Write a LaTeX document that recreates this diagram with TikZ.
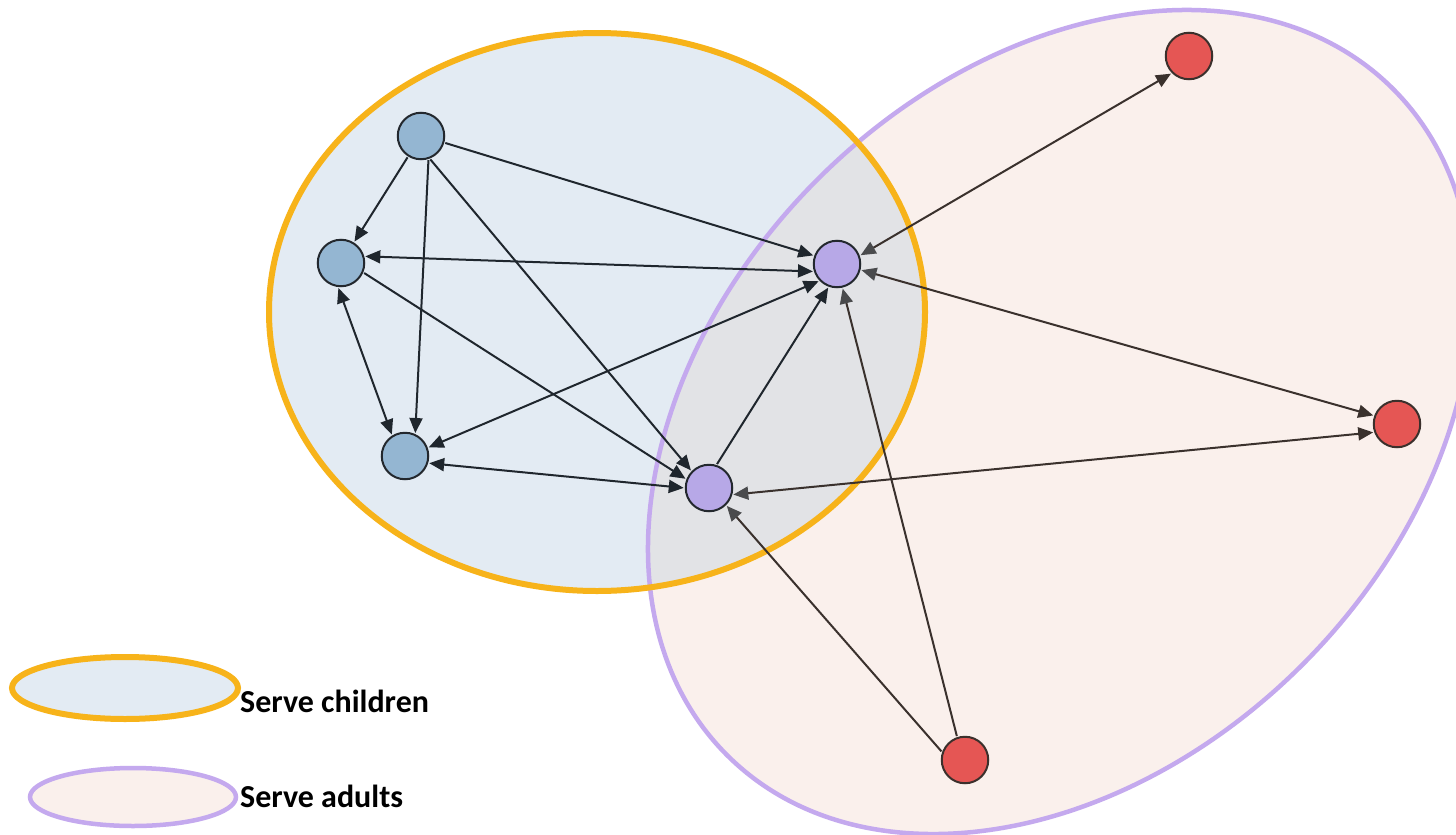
\documentclass[tikz,border=0pt]{standalone}
\usepackage{fontspec}
\setmainfont{Carlito}
\usetikzlibrary{arrows.meta}
\definecolor{orng}{HTML}{F7B31A}
\definecolor{purp}{HTML}{C4A9EE}
\definecolor{bluefill}{HTML}{E3EBF3}
\definecolor{pinkfill}{HTML}{FAF0EC}
\definecolor{greyfill}{HTML}{E2E3E6}
\definecolor{bluenode}{HTML}{94B6D2}
\definecolor{purpnode}{HTML}{B7A8E7}
\definecolor{rednode}{HTML}{E55654}
\definecolor{nodeline}{HTML}{23282E}
\definecolor{rednodeline}{HTML}{3B302C}
\definecolor{edgedark}{HTML}{1F262D}
\definecolor{edgebrown}{HTML}{3A312D}
\definecolor{tipgrey}{HTML}{4A4B4D}
\tikzset{
  dtip/.tip={Triangle[length=15pt,width=13pt]},
  gtip/.tip={Triangle[length=15pt,width=13pt,color=tipgrey]},
  vtx/.style={circle,minimum size=46.5pt,inner sep=0pt,line width=2pt},
  bnode/.style={vtx,draw=nodeline,fill=bluenode},
  pnode/.style={vtx,draw=nodeline,fill=purpnode},
  rnode/.style={vtx,draw=rednodeline,fill=rednode},
  bedge/.style={line width=2pt,draw=edgedark,shorten >=1pt,shorten <=1pt},
  redge/.style={line width=2pt,draw=edgebrown,shorten >=1pt,shorten <=1pt},
  legtext/.style={anchor=base west,inner sep=0pt,font=\bfseries\fontsize{32}{37}\selectfont},
}
\begin{document}
\begin{tikzpicture}[x=1pt,y=-1pt]
\useasboundingbox (0,0) rectangle (1456,835);
\fill[white] (0,0) rectangle (1456,835);
% group regions
\fill[pinkfill,rotate around={45:(1060,422)}] (1060,422) ellipse [x radius=471, y radius=343];
\fill[bluefill] (597,312) ellipse [x radius=328, y radius=279];
\begin{scope}
  \clip (597,312) ellipse [x radius=328, y radius=279];
  \fill[greyfill,rotate around={45:(1060,422)}] (1060,422) ellipse [x radius=471, y radius=343];
\end{scope}
\draw[purp,line width=4.5pt,rotate around={45:(1060,422)}] (1060,422) ellipse [x radius=471, y radius=343];
\draw[orng,line width=6pt] (597,312) ellipse [x radius=328, y radius=279];
% legend
\draw[orng,line width=6pt,fill=bluefill] (125,688) ellipse [x radius=113, y radius=31];
\draw[purp,line width=4.5pt,fill=pinkfill] (133,797) ellipse [x radius=103, y radius=29];
\node[legtext] (lc) at (240,712) {Serve children};
\node[legtext] (la) at (240,807) {Serve adults};
% nodes
\node[bnode] (b1) at (421,136) {};
\node[bnode] (b2) at (341,263) {};
\node[bnode] (b3) at (405,456) {};
\node[pnode] (p1) at (837,264) {};
\node[pnode] (p2) at (709,488) {};
\node[rnode] (r1) at (1189,56) {};
\node[rnode] (r2) at (1397,424) {};
\node[rnode] (r3) at (965,760) {};
% edges among children-serving organisations
\draw[bedge,-dtip] (b1) -- (b2);
\draw[bedge,-dtip] (b1.-72) -- (b3.65);
\draw[bedge,-dtip] (b1.-16) -- (p1.160);
\draw[bedge,-dtip] (b1.-69) -- (p2.136);
\draw[bedge,dtip-dtip] (b2.16) -- (p1.198);
\draw[bedge,-dtip] (b2.-23) -- (p2.159);
\draw[bedge,dtip-dtip] (b2.-97) -- (b3.122);
\draw[bedge,dtip-dtip] (b3.20) -- (p1.224);
\draw[bedge,dtip-dtip] (b3.-17) -- (p2.180);
\draw[bedge,-dtip] (p2.72) -- (p1.-110);
% edges with adult-serving organisations
\draw[redge,gtip-dtip] (p1.20) -- (r1.225);
\draw[redge,gtip-dtip] (p1.-14) -- (r2.160);
\draw[redge,gtip-dtip] (p2.-16) -- (r2.200);
\draw[redge,-gtip] (r3.109) -- (p1.-77);
\draw[redge,-gtip] (r3.161) -- (p2.-45);
\end{tikzpicture}
\end{document}
